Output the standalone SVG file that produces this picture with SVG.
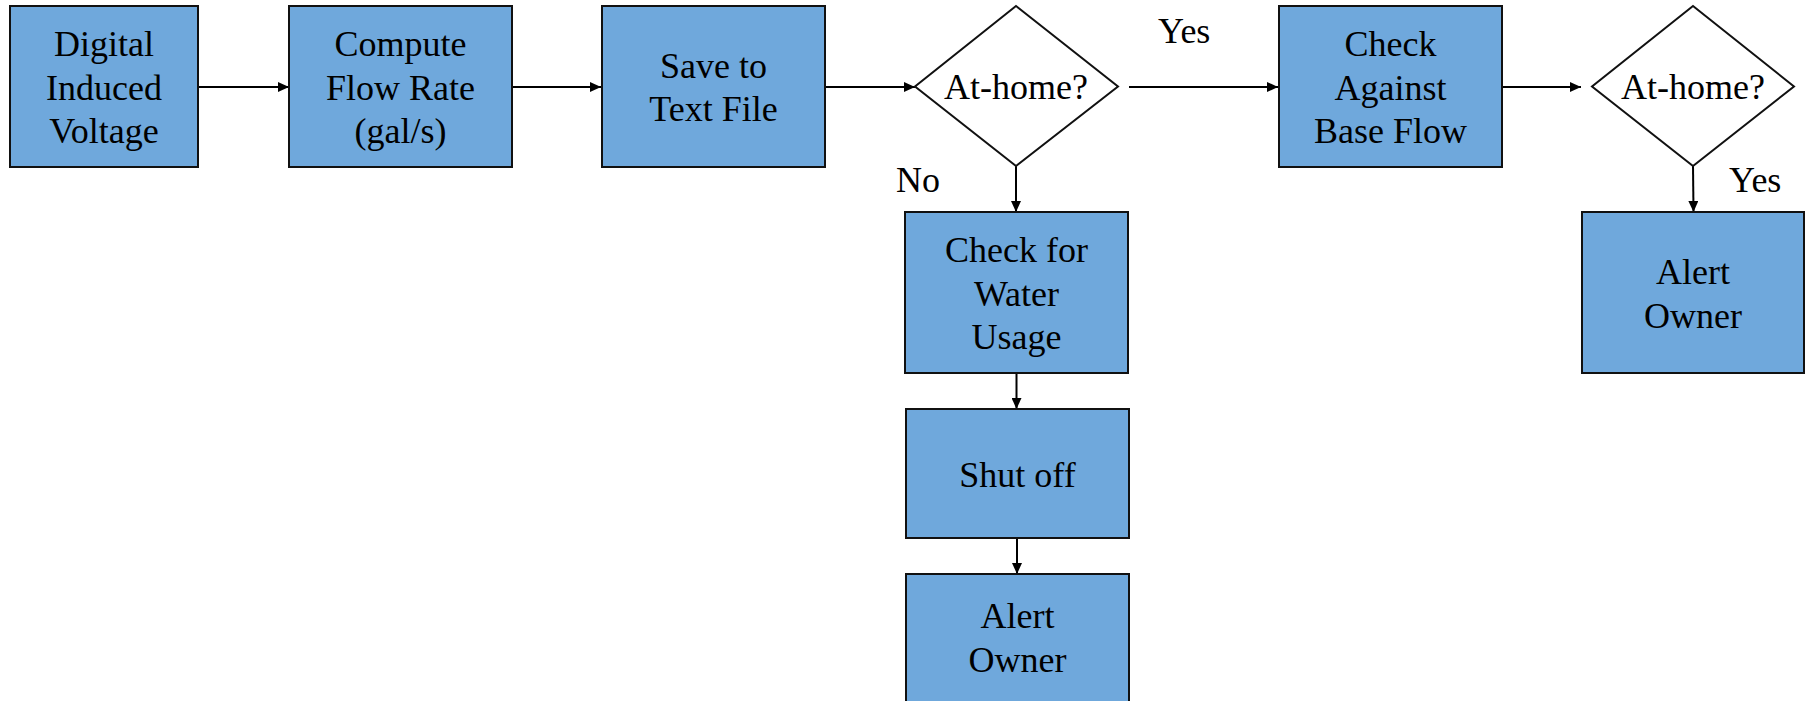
<svg xmlns="http://www.w3.org/2000/svg" width="1806" height="701" viewBox="0 0 1806 701">
<style>
.box{fill:#6fa8dc;stroke:#111;stroke-width:2}
.dia{fill:#fff;stroke:#111;stroke-width:2}
.c{stroke:#000;stroke-width:2;fill:none;marker-end:url(#ah)}
</style>
<defs>
<marker id="ah" markerUnits="userSpaceOnUse" markerWidth="11" markerHeight="10" refX="11" refY="5" orient="auto">
<path d="M0,0 L11,5 L0,10 z" fill="#000"/>
</marker>
</defs>
<rect width="1806" height="701" fill="#fff"/>
<g id="connectors">
<line class="c" x1="198" y1="87" x2="289" y2="87"/>
<line class="c" x1="512" y1="87" x2="601" y2="87"/>
<line class="c" x1="825" y1="87" x2="915" y2="87"/>
<line class="c" x1="1129" y1="87" x2="1278" y2="87"/>
<line class="c" x1="1502" y1="87" x2="1581" y2="87"/>
<line class="c" x1="1016" y1="166" x2="1016" y2="212"/>
<line class="c" x1="1016.5" y1="373" x2="1016.5" y2="409"/>
<line class="c" x1="1017" y1="538" x2="1017" y2="574"/>
<line class="c" x1="1693" y1="166" x2="1693.5" y2="212"/>
<text x="1158" y="43" font-family="Liberation Serif" font-size="36">Yes</text>
<text x="896" y="192" font-family="Liberation Serif" font-size="36">No</text>
<text x="1729" y="192" font-family="Liberation Serif" font-size="36">Yes</text>
</g>
<g id="n1">
<rect class="box" x="10" y="6" width="188" height="161"/>
<text x="104" y="56" font-family="Liberation Serif" font-size="36" text-anchor="middle">Digital</text>
<text x="104" y="99.5" font-family="Liberation Serif" font-size="36" text-anchor="middle">Induced</text>
<text x="104" y="143" font-family="Liberation Serif" font-size="36" text-anchor="middle">Voltage</text>
</g>
<g id="n2">
<rect class="box" x="289" y="6" width="223" height="161"/>
<text x="400.5" y="56" font-family="Liberation Serif" font-size="36" text-anchor="middle">Compute</text>
<text x="400.5" y="99.5" font-family="Liberation Serif" font-size="36" text-anchor="middle">Flow Rate</text>
<text x="400.5" y="143" font-family="Liberation Serif" font-size="36" text-anchor="middle">(gal/s)</text>
</g>
<g id="n3">
<rect class="box" x="602" y="6" width="223" height="161"/>
<text x="713.5" y="77.5" font-family="Liberation Serif" font-size="36" text-anchor="middle">Save to</text>
<text x="713.5" y="121" font-family="Liberation Serif" font-size="36" text-anchor="middle">Text File</text>
</g>
<g id="d1">
<polygon class="dia" points="1016,6 1118,86.5 1016,166 915,86.5"/>
<text x="1016" y="99" font-family="Liberation Serif" font-size="36" text-anchor="middle">At-home?</text>
</g>
<g id="n4">
<rect class="box" x="1279" y="6" width="223" height="161"/>
<text x="1390.5" y="56" font-family="Liberation Serif" font-size="36" text-anchor="middle">Check</text>
<text x="1390.5" y="99.5" font-family="Liberation Serif" font-size="36" text-anchor="middle">Against</text>
<text x="1390.5" y="143" font-family="Liberation Serif" font-size="36" text-anchor="middle">Base Flow</text>
</g>
<g id="d2">
<polygon class="dia" points="1693,6 1794,86.5 1693,166 1592,86.5"/>
<text x="1693" y="99" font-family="Liberation Serif" font-size="36" text-anchor="middle">At-home?</text>
</g>
<g id="n5">
<rect class="box" x="1582" y="212" width="222" height="161"/>
<text x="1693" y="284" font-family="Liberation Serif" font-size="36" text-anchor="middle">Alert</text>
<text x="1693" y="327.5" font-family="Liberation Serif" font-size="36" text-anchor="middle">Owner</text>
</g>
<g id="n6">
<rect class="box" x="905" y="212" width="223" height="161"/>
<text x="1016.5" y="262" font-family="Liberation Serif" font-size="36" text-anchor="middle">Check for</text>
<text x="1016.5" y="305.5" font-family="Liberation Serif" font-size="36" text-anchor="middle">Water</text>
<text x="1016.5" y="349" font-family="Liberation Serif" font-size="36" text-anchor="middle">Usage</text>
</g>
<g id="n7">
<rect class="box" x="906" y="409" width="223" height="129"/>
<text x="1017.5" y="486.5" font-family="Liberation Serif" font-size="36" text-anchor="middle">Shut off</text>
</g>
<g id="n8">
<rect class="box" x="906" y="574" width="223" height="140"/>
<text x="1017.5" y="628" font-family="Liberation Serif" font-size="36" text-anchor="middle">Alert</text>
<text x="1017.5" y="671.5" font-family="Liberation Serif" font-size="36" text-anchor="middle">Owner</text>
</g>
</svg>
